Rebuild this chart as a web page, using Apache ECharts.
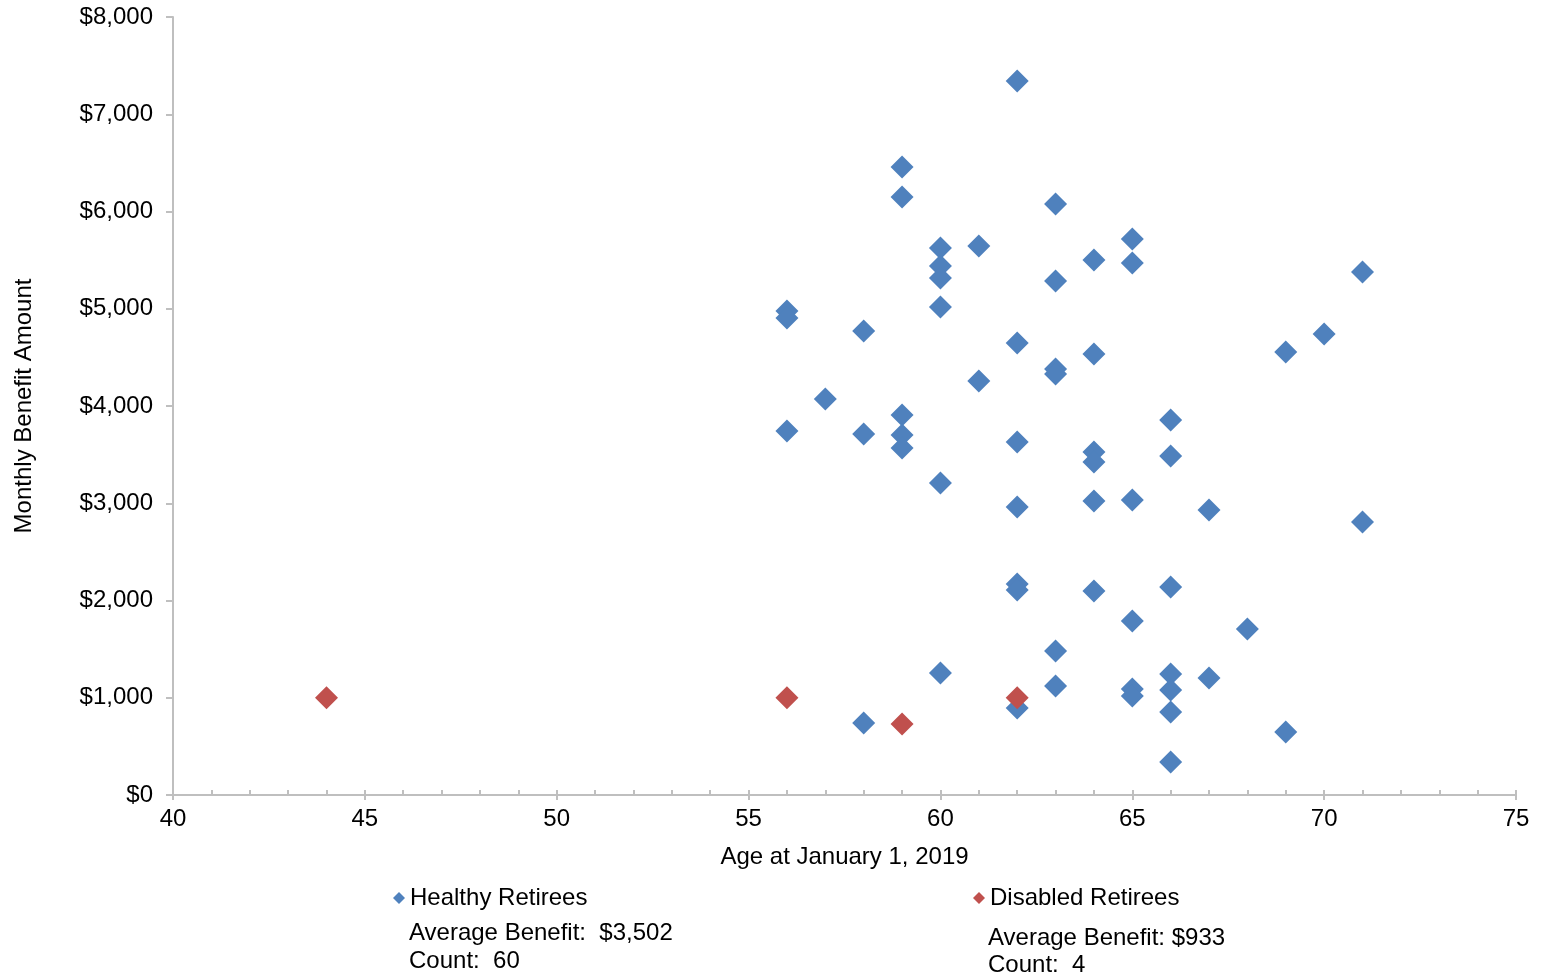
<!DOCTYPE html>
<html>
<head>
<meta charset="utf-8">
<script src="https://cdn.jsdelivr.net/npm/echarts@6/dist/echarts.min.js"></script>
<style>html,body{margin:0;padding:0;background:#fff}#c{width:1541px;height:977px}</style>
</head>
<body>
<div id="c"></div>
<script>
// ---- data ----
const healthyAges = [56,56,56, 57, 58,58,58, 59,59,59,59,59, 60,60,60,60,60,60, 61,61,
  62,62,62,62,62,62,62, 63,63,63,63,63,63, 64,64,64,64,64,64, 65,65,65,65,65,65,
  66,66,66,66,66,66,66, 67,67, 68, 69,69, 70, 71,71];
const healthyBenefits = [4977,4905,3743, 4072, 4771,3712,740, 6458,6149,3907,3702,3568,
  5625,5440,5316,5018,3208,1254, 5645,4257,
  7342,4648,3630,2961,2170,2108,895, 6077,5285,4380,4329,1481,1121,
  5501,4535,3527,3424,3023,2098, 5717,5470,3033,1789,1090,1018,
  3856,3486,2139,1244,1080,853,339, 2931,1203, 1707, 4555,648, 4740, 5378,2807];
const disabledAges = [44, 56, 59, 62];
const disabledBenefits = [1000, 1000, 730, 1000];
const seriesNames = ['Healthy Retirees', 'Disabled Retirees'];
const healthySummary = ['Average Benefit:  $3,502', 'Count:  60'];
const disabledSummary = ['Average Benefit: $933', 'Count:  4'];
const xTitle = 'Age at January 1, 2019';
const yTitle = 'Monthly Benefit Amount';

const FONT = "'Liberation Sans', Arial, sans-serif";
const zip = (a, b) => a.map((v, i) => [v, b[i]]);
const axisGrey = '#bfbfbf';

const chart = echarts.init(document.getElementById('c'), null, {renderer: 'canvas'});
chart.setOption({
  animation: false,
  textStyle: {fontFamily: FONT},
  grid: {left: 173, right: 25, top: 17, bottom: 182, containLabel: false},
  xAxis: [{
    type: 'value', min: 40, max: 75, interval: 5, position: 'bottom',
    name: xTitle, nameLocation: 'middle', nameGap: 50,
    nameTextStyle: {fontSize: 24, color: '#000', fontFamily: FONT},
    axisLine: {show: true, lineStyle: {color: axisGrey, width: 2}},
    axisTick: {show: true, inside: true, length: 5, lineStyle: {color: axisGrey, width: 2}},
    minorTick: {show: true, splitNumber: 5, length: 5, lineStyle: {color: axisGrey, width: 2}},
    axisLabel: {fontSize: 24, color: '#000', margin: 12, fontFamily: FONT},
    splitLine: {show: false}
  }, {
    type: 'value', min: 40, max: 75, interval: 5, position: 'bottom', offset: 0,
    axisLine: {show: false},
    axisTick: {show: true, inside: false, length: 5, lineStyle: {color: axisGrey, width: 2}},
    axisLabel: {show: false},
    splitLine: {show: false}
  }],
  yAxis: {
    type: 'value', min: 0, max: 8000, interval: 1000,
    name: yTitle, nameLocation: 'middle', nameGap: 137, nameRotate: 90,
    nameTextStyle: {fontSize: 24, color: '#000', fontFamily: FONT},
    axisLine: {show: true, lineStyle: {color: axisGrey, width: 2}},
    axisTick: {show: true, inside: false, length: 7, lineStyle: {color: axisGrey, width: 2}},
    axisLabel: {fontSize: 24, color: '#000', margin: 20, fontFamily: FONT,
      formatter: v => '$' + v.toLocaleString('en-US')},
    splitLine: {show: false}
  },
  legend: [
    {data: [seriesNames[0]], left: 388, top: 881, icon: 'diamond', itemWidth: 12, itemHeight: 12,
     itemGap: 5, textStyle: {fontSize: 24, color: '#000', fontFamily: FONT}},
    {data: [seriesNames[1]], left: 968, top: 881, icon: 'diamond', itemWidth: 12, itemHeight: 12,
     itemGap: 5, textStyle: {fontSize: 24, color: '#000', fontFamily: FONT}}
  ],
  graphic: [
    {type: 'text', left: 409, top: 921, style: {text: healthySummary[0], font: '24px ' + FONT, fill: '#000'}},
    {type: 'text', left: 409, top: 949, style: {text: healthySummary[1], font: '24px ' + FONT, fill: '#000'}},
    {type: 'text', left: 988, top: 926, style: {text: disabledSummary[0], font: '24px ' + FONT, fill: '#000'}},
    {type: 'text', left: 988, top: 953, style: {text: disabledSummary[1], font: '24px ' + FONT, fill: '#000'}}
  ],
  series: [
    {name: seriesNames[0], type: 'scatter', symbol: 'diamond', symbolSize: 23,
     itemStyle: {color: '#4F81BD', opacity: 1}, data: zip(healthyAges, healthyBenefits)},
    {name: seriesNames[1], type: 'scatter', symbol: 'diamond', symbolSize: 23,
     itemStyle: {color: '#C0504D', opacity: 1}, data: zip(disabledAges, disabledBenefits)}
  ]
});
</script>
</body>
</html>
